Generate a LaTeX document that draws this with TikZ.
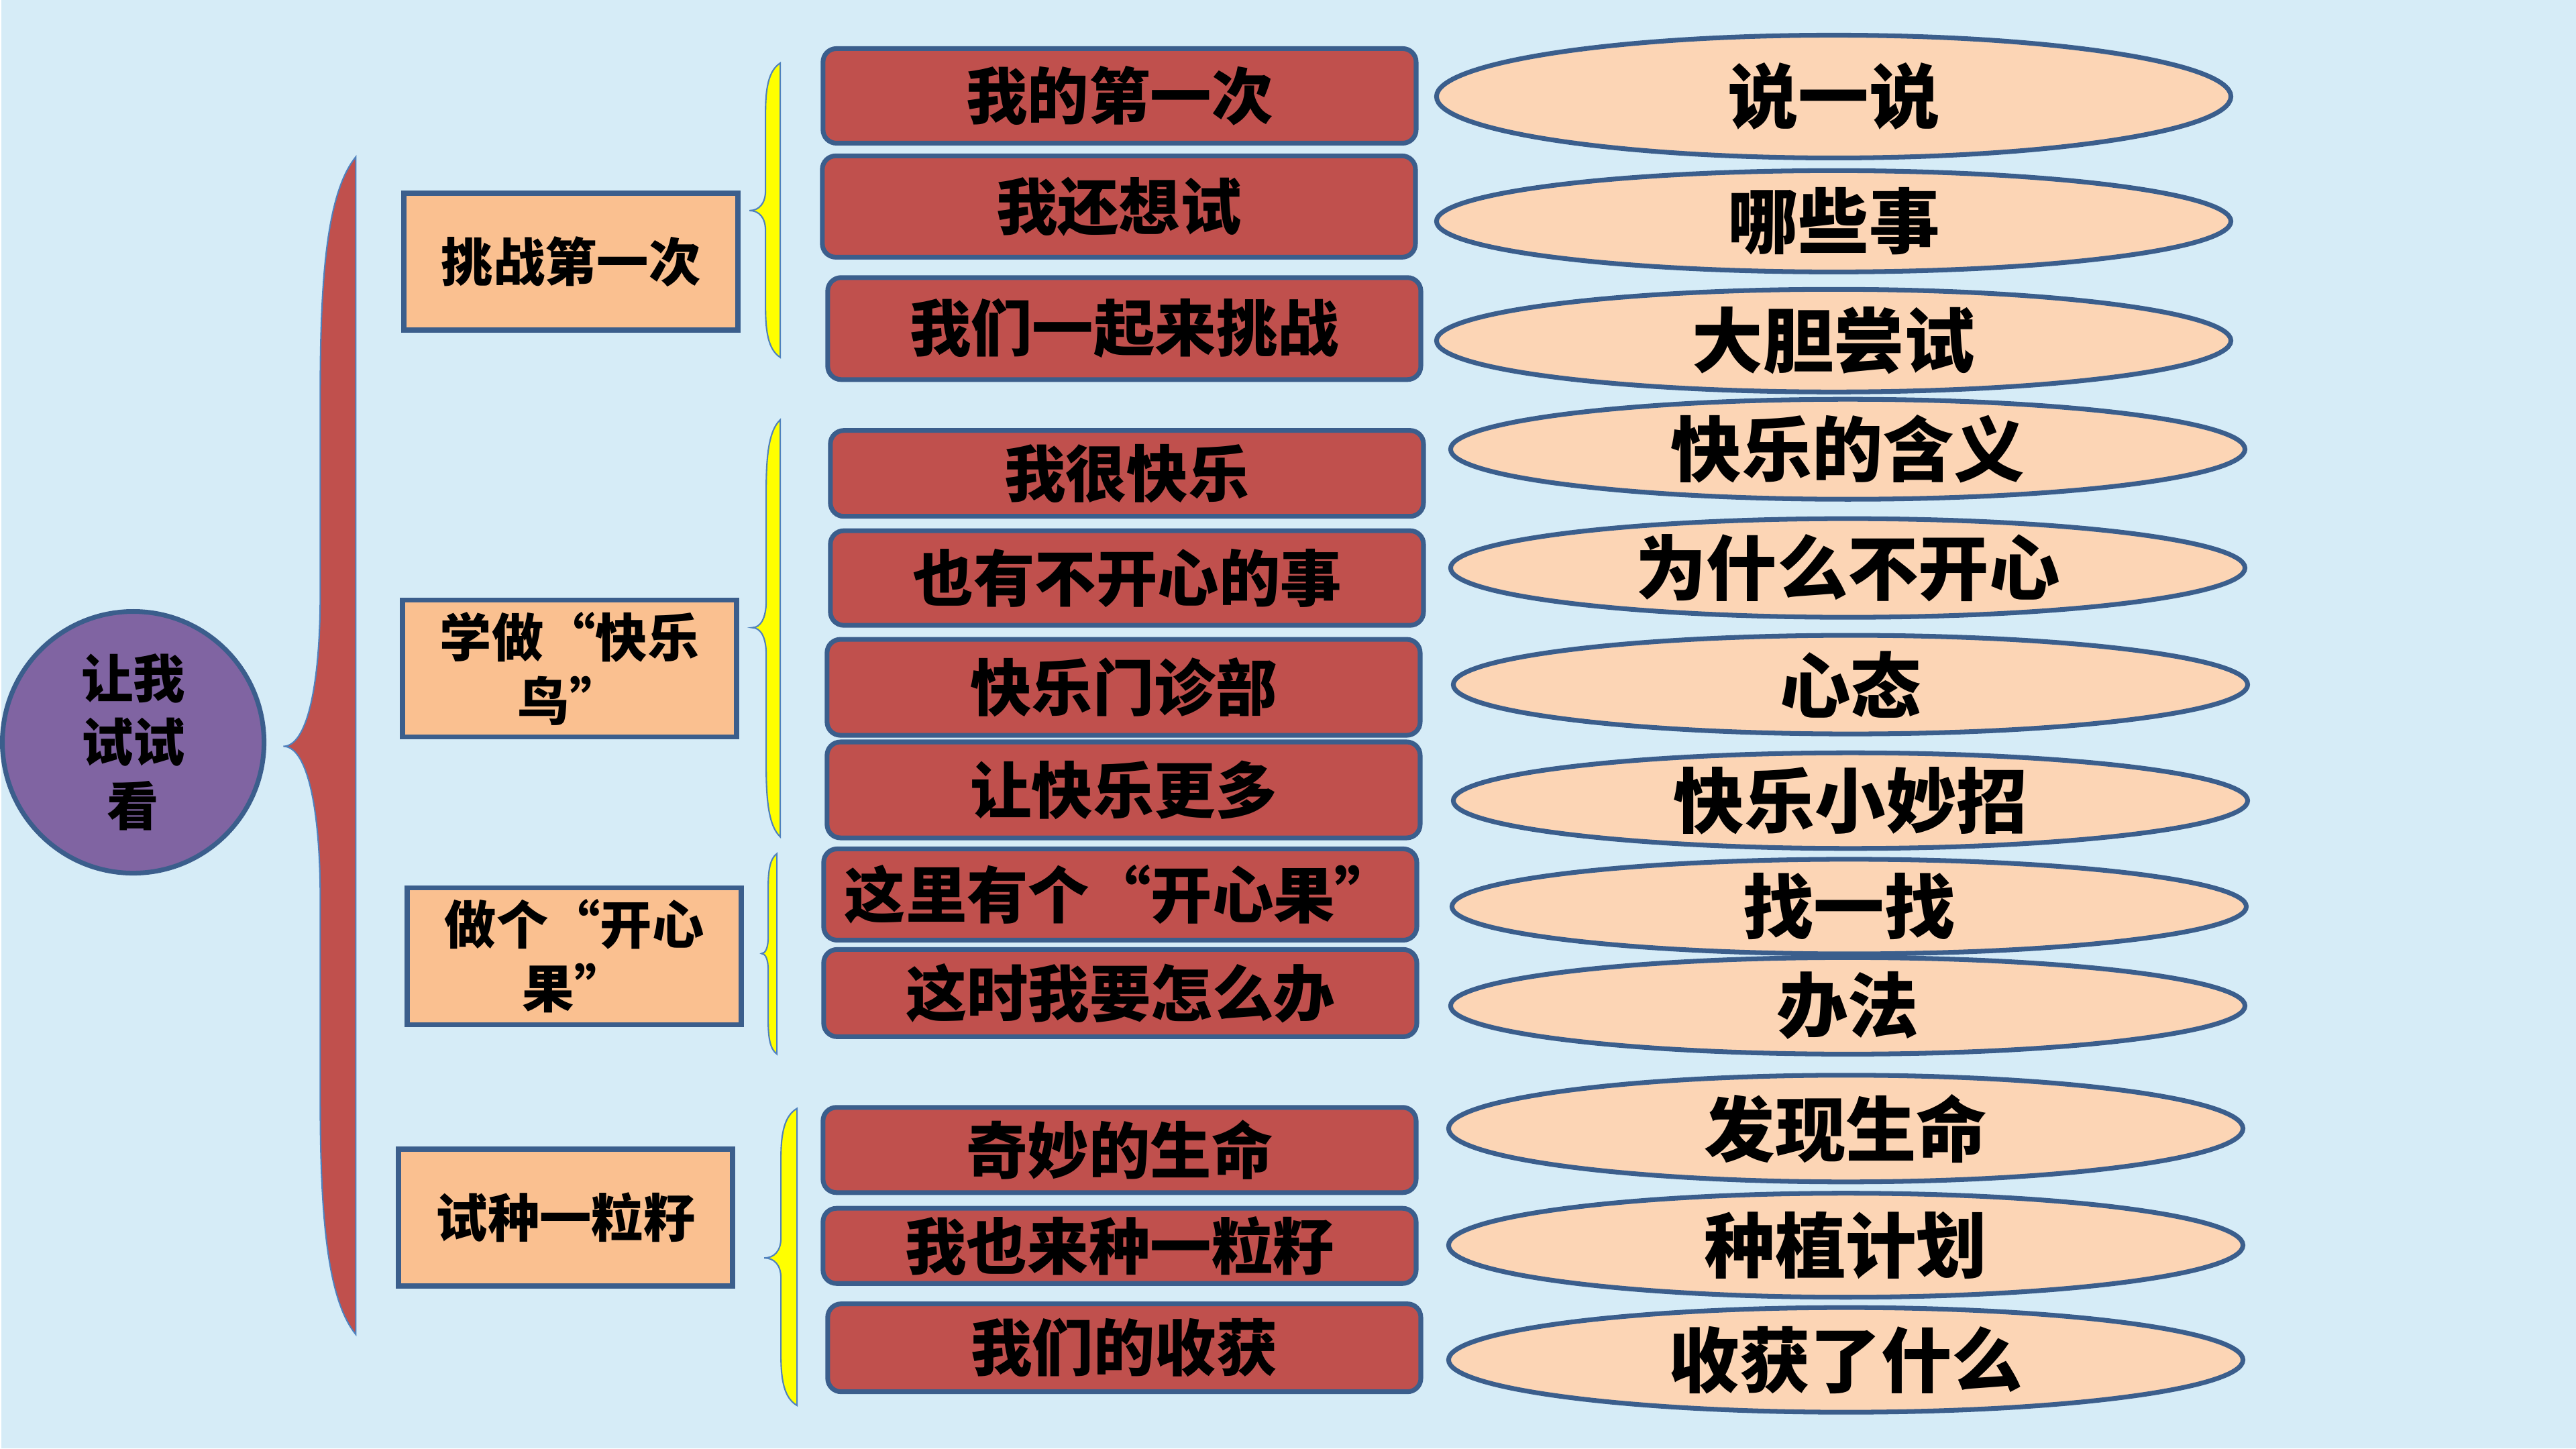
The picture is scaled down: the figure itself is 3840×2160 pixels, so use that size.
\documentclass[tikz,border=0pt]{standalone}
\usepackage{fontspec}
\setmainfont{Noto Sans CJK SC}
\usetikzlibrary{shapes.geometric}
\definecolor{bgblue}{RGB}{214,236,247}
\definecolor{edgeblue}{RGB}{59,94,140}
\definecolor{lineblue}{RGB}{79,129,189}
\definecolor{brickred}{RGB}{192,80,77}
\definecolor{peach}{RGB}{250,192,144}
\definecolor{paleorange}{RGB}{252,213,181}
\definecolor{rootpurple}{RGB}{128,100,162}
\definecolor{braceyellow}{RGB}{255,255,0}
% curly brace: fill, x right, x shaft, x tip, y top, y tip, y bottom, end curve, tip curve
\newcommand{\bracefill}[9]{%
  \filldraw[bracebase, fill=#1] (#2,#5)
    .. controls ({#3+0.2*(#2-#3)},{#5+0.15*#8}) and (#3,{#5+0.5*#8}) .. (#3,{#5+#8})
    -- (#3,{#6-#9})
    .. controls (#3,{#6-0.35*#9}) and ({#4+0.6*(#3-#4)},#6) .. (#4,#6)
    .. controls ({#4+0.6*(#3-#4)},#6) and (#3,{#6+0.35*#9}) .. (#3,{#6+#9})
    -- (#3,{#7-#8})
    .. controls (#3,{#7-0.5*#8}) and ({#3+0.2*(#2-#3)},{#7-0.15*#8}) .. (#2,#7)
    -- cycle;}

\begin{document}
\begin{tikzpicture}[x=0.01cm, y=-0.01cm,
        root/.style={circle, draw=edgeblue, line width=2pt, fill=rootpurple, minimum size=3.9cm, inner sep=0pt, align=center, font=\fontsize{22}{27}\selectfont\bfseries},
        topic/.style={rectangle, draw=edgeblue, line width=2.2pt, fill=peach, minimum width=4.98cm, minimum height=2.04cm, align=center, font=\fontsize{22}{27}\selectfont\bfseries},
        lesson/.style={rectangle, rounded corners=0.2cm, draw=edgeblue, line width=2pt, fill=brickred, minimum width=8.84cm, inner sep=0pt, font=\fontsize{26}{30}\selectfont\bfseries},
        point/.style={ellipse, draw=edgeblue, line width=2pt, fill=paleorange, minimum width=11.84cm, inner sep=0pt, font=\fontsize{30}{34}\selectfont\bfseries},
        bracebase/.style={draw=lineblue, line width=0.6pt}
    ]
    \fill[bgblue] (0,0) rectangle (3840,2160);

    \node[root] (root) at (197,1107) {让我\\试试\\看};

    \node[topic] (t1) at (850,390) {挑战第一次};
    \node[topic] (t2) at (848,997) {学做“快乐\\鸟”};
    \node[topic] (t3) at (855,1426) {做个“开心\\果”};
    \node[topic] (t4) at (842,1816) {试种一粒籽};

    \node[lesson, minimum height=1.41cm] (l1) at (1668,143) {我的第一次};
    \node[lesson, minimum height=1.51cm] (l2) at (1667,308) {我还想试};
    \node[lesson, minimum height=1.52cm] (l3) at (1675,490) {我们一起来挑战};
    \node[lesson, minimum height=1.28cm] (l4) at (1679,706) {我很快乐};
    \node[lesson, minimum height=1.41cm] (l5) at (1679,862) {也有不开心的事};
    \node[lesson, minimum height=1.43cm] (l6) at (1674,1025) {快乐门诊部};
    \node[lesson, minimum height=1.43cm] (l7) at (1674,1178) {让快乐更多};
    \node[lesson, minimum height=1.36cm] (l8) at (1669,1334) {这里有个“开心果”};
    \node[lesson, minimum height=1.30cm] (l9) at (1669,1481) {这时我要怎么办};
    \node[lesson, minimum height=1.27cm] (l10) at (1668,1715) {奇妙的生命};
    \node[lesson, minimum height=1.12cm] (l11) at (1668,1858) {我也来种一粒籽};
    \node[lesson, minimum height=1.31cm] (l12) at (1675,2010) {我们的收获};

    \node[point, minimum height=1.83cm] (p1) at (2733,144) {说一说};
    \node[point, minimum height=1.51cm] (p2) at (2733,330) {哪些事};
    \node[point, minimum height=1.53cm] (p3) at (2733,508) {大胆尝试};
    \node[point, minimum height=1.49cm] (p4) at (2754,670) {快乐的含义};
    \node[point, minimum height=1.47cm] (p5) at (2754,847) {为什么不开心};
    \node[point, minimum height=1.47cm] (p6) at (2758,1021) {心态};
    \node[point, minimum height=1.34cm] (p7) at (2758,1194) {快乐小妙招};
    \node[point, minimum height=1.37cm] (p8) at (2756,1352) {找一找};
    \node[point, minimum height=1.44cm] (p9) at (2754,1500) {办法};
    \node[point, minimum height=1.59cm] (p10) at (2751,1683) {发现生命};
    \node[point, minimum height=1.55cm] (p11) at (2751,1857) {种植计划};
    \node[point, minimum height=1.56cm] (p12) at (2751,2028) {收获了什么};

    % braces
    \bracefill{brickred}{529}{476}{421}{234}{1113}{1990}{350}{230}
    \bracefill{braceyellow}{1162}{1140}{1116}{94}{314}{533}{75}{30}
    \bracefill{braceyellow}{1162}{1141}{1120}{626}{936}{1248}{105}{40}
    \bracefill{braceyellow}{1157}{1144}{1134}{1273}{1422}{1572}{50}{25}
    \bracefill{braceyellow}{1187}{1163}{1138}{1653}{1876}{2096}{75}{30}
\end{tikzpicture}
\end{document}
